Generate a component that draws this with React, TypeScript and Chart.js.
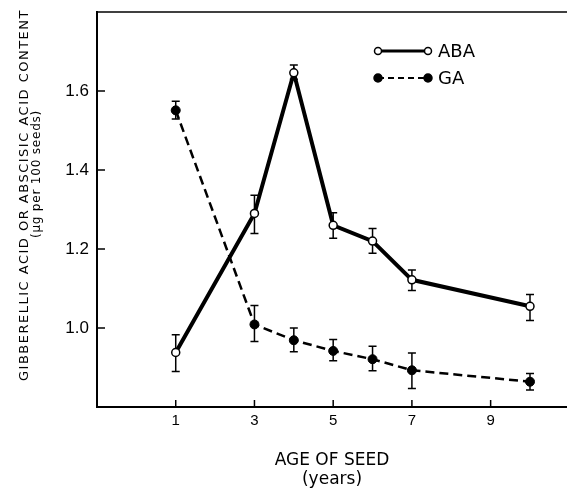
import React, { useEffect, useRef } from "react";
import { Chart, registerables } from "chart.js";

Chart.register(...registerables);

// ---- Data ----
const ages = [1, 3, 4, 5, 6, 7, 10];
const abaValues = [0.938, 1.29, 1.646, 1.26, 1.22, 1.122, 1.055];
const abaHigh = [0.983, 1.336, 1.666, 1.292, 1.252, 1.147, 1.085];
const abaLow = [0.89, 1.239, 1.63, 1.227, 1.189, 1.095, 1.019];
const gaValues = [1.551, 1.009, 0.969, 0.942, 0.921, 0.893, 0.864];
const gaHigh = [1.574, 1.057, 1.0, 0.971, 0.954, 0.937, 0.885];
const gaLow = [1.529, 0.966, 0.94, 0.917, 0.892, 0.847, 0.843];
const xTickValues = [1, 3, 5, 7, 9];
const yTickValues = [1.0, 1.2, 1.4, 1.6];
const seriesNames = ["ABA", "GA"];
const yTitleLines = ["GIBBERELLIC ACID OR ABSCISIC ACID CONTENT", "(\u03BCg per 100 seeds)"];
const xTitleLines = ["AGE OF SEED", "(years)"];

const errorBarsPlugin = {
  id: "errorBars",
  beforeDatasetsDraw(chart: any) {
    const { ctx, scales } = chart;
    const xs = scales.x;
    const ys = scales.y;
    const groups = [
      { hi: abaHigh, lo: abaLow },
      { hi: gaHigh, lo: gaLow },
    ];
    ctx.save();
    ctx.strokeStyle = "#000";
    ctx.lineWidth = 1.5;
    ctx.setLineDash([]);
    groups.forEach((g) => {
      ages.forEach((a, i) => {
        const px = xs.getPixelForValue(a);
        const pyH = ys.getPixelForValue(g.hi[i]);
        const pyL = ys.getPixelForValue(g.lo[i]);
        ctx.beginPath();
        ctx.moveTo(px, pyH);
        ctx.lineTo(px, pyL);
        ctx.moveTo(px - 4, pyH);
        ctx.lineTo(px + 4, pyH);
        ctx.moveTo(px - 4, pyL);
        ctx.lineTo(px + 4, pyL);
        ctx.stroke();
      });
    });
    ctx.restore();
  },
};

const decorPlugin = {
  id: "decor",
  afterDraw(chart: any) {
    const { ctx, scales, chartArea } = chart;
    const xs = scales.x;
    const ys = scales.y;
    ctx.save();
    ctx.strokeStyle = "#000";
    ctx.fillStyle = "#000";
    ctx.setLineDash([]);
    // top border
    ctx.lineWidth = 1.5;
    ctx.beginPath();
    ctx.moveTo(chartArea.left, chartArea.top);
    ctx.lineTo(chart.width, chartArea.top);
    ctx.stroke();
    // inward ticks
    ctx.lineWidth = 1.5;
    yTickValues.forEach((v) => {
      const py = ys.getPixelForValue(v);
      ctx.beginPath();
      ctx.moveTo(chartArea.left, py);
      ctx.lineTo(chartArea.left + 8, py);
      ctx.stroke();
    });
    xTickValues.forEach((v) => {
      const px = xs.getPixelForValue(v);
      ctx.beginPath();
      ctx.moveTo(px, chartArea.bottom);
      ctx.lineTo(px, chartArea.bottom - 7);
      ctx.stroke();
    });

    // y title
    ctx.textAlign = "center";
    ctx.textBaseline = "alphabetic";
    ctx.save();
    ctx.translate(28, 195);
    ctx.rotate(-Math.PI / 2);
    ctx.font = "13px 'DejaVu Sans'";
    (ctx as any).letterSpacing = "1.5px";
    ctx.fillText(yTitleLines[0], 0, 0);
    ctx.restore();
    ctx.save();
    ctx.translate(40, 174);
    ctx.rotate(-Math.PI / 2);
    ctx.font = "12px 'DejaVu Sans'";
    (ctx as any).letterSpacing = "0.8px";
    ctx.fillText(yTitleLines[1], 0, 0);
    ctx.restore();

    // x title
    const cx = (chartArea.left + chart.width) / 2;
    ctx.font = "17px 'DejaVu Sans'";
    ctx.fillText(xTitleLines[0], cx, 465);
    ctx.fillText(xTitleLines[1], cx, 484);

    // legend
    const legendX1 = 378;
    const legendX2 = 428;
    const rows = [
      { y: 51, dash: [] as number[], width: 3, fill: "#fff", r: 3.5 },
      { y: 78, dash: [6, 4], width: 2.2, fill: "#000", r: 4 },
    ];
    rows.forEach((row, i) => {
      ctx.save();
      ctx.lineWidth = row.width;
      ctx.setLineDash(row.dash);
      ctx.beginPath();
      ctx.moveTo(legendX1, row.y);
      ctx.lineTo(legendX2, row.y);
      ctx.stroke();
      ctx.setLineDash([]);
      ctx.lineWidth = 1.5;
      [legendX1, legendX2].forEach((lx) => {
        ctx.beginPath();
        ctx.arc(lx, row.y, row.r, 0, Math.PI * 2);
        ctx.fillStyle = row.fill;
        ctx.fill();
        ctx.stroke();
      });
      ctx.fillStyle = "#000";
      ctx.font = "18px 'DejaVu Sans'";
      ctx.textAlign = "left";
      ctx.textBaseline = "middle";
      ctx.fillText(seriesNames[i], 438, row.y + 1);
      ctx.restore();
    });
    ctx.restore();
  },
};

export default function App() {
  const canvasRef = useRef<HTMLCanvasElement | null>(null);

  useEffect(() => {
    const canvas = canvasRef.current;
    if (!canvas) return;
    const chart = new Chart(canvas, {
      type: "line",
      data: {
        datasets: [
          {
            label: seriesNames[0],
            data: ages.map((a, i) => ({ x: a, y: abaValues[i] })),
            borderColor: "#000",
            borderWidth: 4,
            pointRadius: 4,
            pointBackgroundColor: "#fff",
            pointBorderColor: "#000",
            pointBorderWidth: 1.5,
            tension: 0,
            fill: false,
          },
          {
            label: seriesNames[1],
            data: ages.map((a, i) => ({ x: a, y: gaValues[i] })),
            borderColor: "#000",
            borderWidth: 2.5,
            borderDash: [9, 5],
            pointRadius: 4.5,
            pointBackgroundColor: "#000",
            pointBorderColor: "#000",
            pointBorderWidth: 1,
            tension: 0,
            fill: false,
          },
        ],
      },
      options: {
        responsive: false,
        animation: false,
        devicePixelRatio: 1,
        layout: { autoPadding: false, padding: { top: 12, right: 0, left: 0, bottom: 0 } },
        plugins: {
          legend: { display: false },
          tooltip: { enabled: false },
        },
        scales: {
          x: {
            type: "linear",
            min: -1,
            max: 10.94,
            afterFit: (s: any) => {
              s.height = 82;
              s.paddingLeft = 0;
              s.paddingRight = 0;
            },
            afterBuildTicks: (s: any) => {
              s.ticks = xTickValues.map((v) => ({ value: v }));
            },
            grid: { display: true, drawOnChartArea: false, drawTicks: false, color: "rgba(0,0,0,0)" },
            border: { display: true, color: "#000", width: 2 },
            ticks: {
              color: "#000",
              padding: 5,
              font: { family: "'Liberation Sans'", size: 15 },
              callback: (v: any) => String(v),
            },
          },
          y: {
            type: "linear",
            min: 0.8,
            max: 1.8,
            afterFit: (s: any) => {
              s.width = 97;
              s.paddingTop = 0;
              s.paddingBottom = 0;
            },
            afterBuildTicks: (s: any) => {
              s.ticks = yTickValues.map((v) => ({ value: v }));
            },
            grid: { display: true, drawOnChartArea: false, drawTicks: false, color: "rgba(0,0,0,0)" },
            border: { display: true, color: "#000", width: 2 },
            ticks: {
              color: "#000",
              padding: 8,
              font: { family: "'Liberation Sans'", size: 17 },
              callback: (v: any) => Number(v).toFixed(1),
            },
          },
        },
      },
      plugins: [errorBarsPlugin, decorPlugin],
    });
    return () => chart.destroy();
  }, []);

  return (
    <div style={{ position: "absolute", left: 0, top: 0, width: 567, height: 489, background: "#fff" }}>
      <canvas ref={canvasRef} width={567} height={489} style={{ display: "block" }} />
    </div>
  );
}
